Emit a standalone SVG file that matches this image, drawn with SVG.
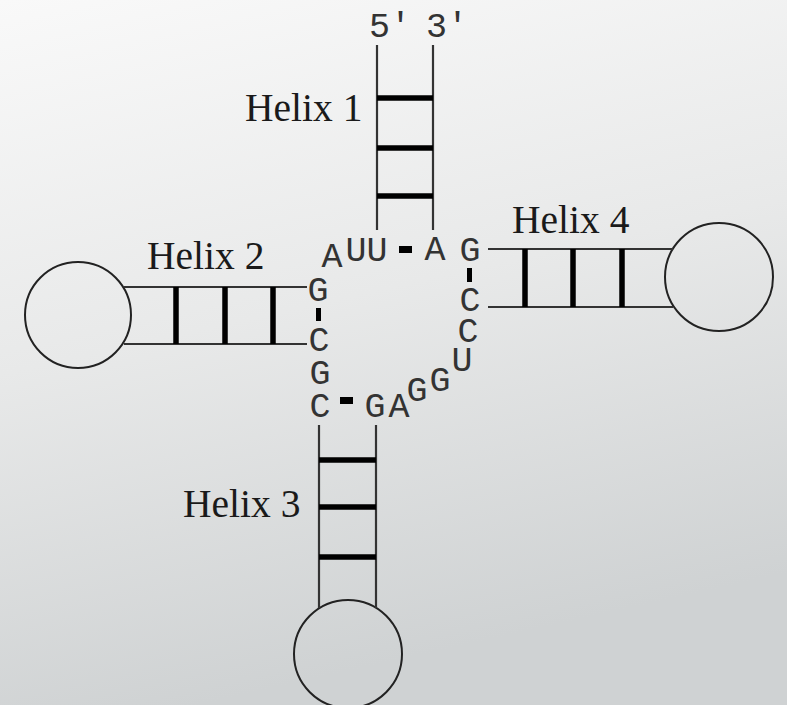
<svg xmlns="http://www.w3.org/2000/svg" width="787" height="705" viewBox="0 0 787 705">
<defs>
<linearGradient id="bg" x1="0" y1="0" x2="0.25" y2="1">
<stop offset="0" stop-color="#f9f9f9"/>
<stop offset="0.5" stop-color="#e8e9e9"/>
<stop offset="1" stop-color="#cfd2d3"/>
</linearGradient>
<style>
.strand{stroke:#333;stroke-width:2.2;fill:none}
.rung{stroke:#000;stroke-width:5.5;fill:none}
.loop{stroke:#222;stroke-width:2;fill:none}
.lbl{font-family:"Liberation Serif","Times New Roman",serif;font-size:39.5px;fill:#1a1a1a}
.nt{font-family:"Courier New","Liberation Mono",monospace;font-size:35px;fill:#333;text-anchor:middle}
.bp{fill:#000}
</style>
</defs>
<rect width="787" height="705" fill="url(#bg)"/>
<g id="helix1">
<line class="strand" x1="377" y1="45" x2="377" y2="230" stroke="#666" stroke-width="3"/>
<line class="strand" x1="433" y1="45" x2="433" y2="230"/>
<line class="rung" x1="377" y1="98" x2="433" y2="98"/>
<line class="rung" x1="377" y1="148" x2="433" y2="148"/>
<line class="rung" x1="377" y1="196" x2="433" y2="196"/>
<text class="lbl" x="245" y="121">Helix 1</text>
<text class="nt" x="390" y="37">5′</text>
<text class="nt" x="447" y="37">3′</text>
</g>
<g id="helix2">
<circle class="loop" cx="78" cy="315" r="53"/>
<line class="strand" x1="124" y1="287" x2="307" y2="287"/>
<line class="strand" x1="124" y1="344" x2="307" y2="344"/>
<line class="rung" x1="176" y1="287" x2="176" y2="344"/>
<line class="rung" x1="225" y1="287" x2="225" y2="344"/>
<line class="rung" x1="273" y1="287" x2="273" y2="344"/>
<text class="lbl" x="147" y="269">Helix 2</text>
</g>
<g id="helix3">
<circle class="loop" cx="348" cy="654" r="54"/>
<line class="strand" x1="319" y1="425" x2="319" y2="608"/>
<line class="strand" x1="376" y1="425" x2="376" y2="608"/>
<line class="rung" x1="319" y1="460" x2="376" y2="460"/>
<line class="rung" x1="319" y1="507" x2="376" y2="507"/>
<line class="rung" x1="319" y1="557" x2="376" y2="557"/>
<text class="lbl" x="183" y="517">Helix 3</text>
</g>
<g id="helix4">
<circle class="loop" cx="719" cy="277" r="54"/>
<line class="strand" x1="488" y1="249" x2="673" y2="249"/>
<line class="strand" x1="488" y1="307" x2="673" y2="307"/>
<line class="rung" x1="525" y1="249" x2="525" y2="307"/>
<line class="rung" x1="573" y1="249" x2="573" y2="307"/>
<line class="rung" x1="622" y1="249" x2="622" y2="307"/>
<text class="lbl" x="512" y="233">Helix 4</text>
</g>
<g id="junction">
<text class="nt" x="332" y="267">A</text>
<text class="nt" x="356" y="261">U</text>
<text class="nt" x="377" y="261">U</text>
<text class="nt" x="435" y="260">A</text>
<text class="nt" x="470" y="261">G</text>
<text class="nt" x="470" y="311">C</text>
<text class="nt" x="468" y="342">C</text>
<text class="nt" x="462" y="371">U</text>
<text class="nt" x="440" y="391">G</text>
<text class="nt" x="417" y="401">G</text>
<text class="nt" x="399" y="417">A</text>
<text class="nt" x="375" y="417">G</text>
<text class="nt" x="320" y="417">C</text>
<text class="nt" x="320" y="384">G</text>
<text class="nt" x="319" y="351">C</text>
<text class="nt" x="318" y="301">G</text>
</g>
<g id="connectors">
<rect class="bp" x="399" y="246" width="13" height="7"/>
<rect class="bp" x="467" y="268" width="5" height="14"/>
<rect class="bp" x="316" y="308" width="5" height="13"/>
<rect class="bp" x="340" y="397" width="13" height="7"/>
</g>
</svg>
